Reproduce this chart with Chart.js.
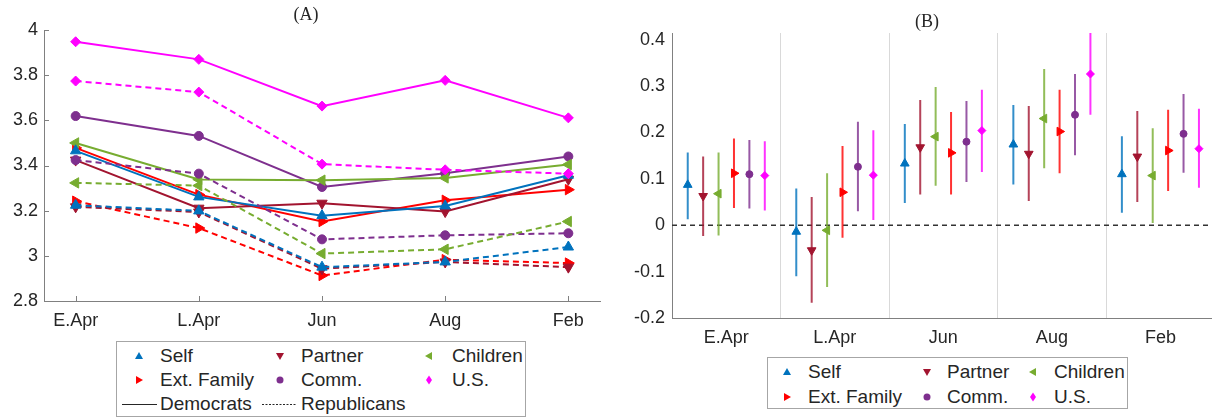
<!DOCTYPE html>
<html>
<head>
<meta charset="utf-8">
<script src="https://cdn.jsdelivr.net/npm/chart.js@4.4.1/dist/chart.umd.min.js"></script>
<style>
  body { margin: 0; background: #fff; width: 1217px; height: 419px; position: relative; overflow: hidden;
         font-family: "Liberation Sans", Arial, sans-serif; color: #262626; }
  canvas { position: absolute; top: 0; }
  #chartA { left: 0; }
  #chartB { left: 610px; }
  .title { position: absolute; font-family: "Liberation Serif", serif; font-size: 18px; line-height: 1;
           transform: translate(-50%, -50%); }
  .legend { position: absolute; border: 1px solid #a6a6a6; background: #fff; box-sizing: border-box; }
  .item { position: absolute; font-size: 19px; line-height: 22px; white-space: nowrap; }
  .mk { position: absolute; line-height: 0; }
  .mk svg { display: block; }
</style>
</head>
<body>
<canvas id="chartA" width="610" height="360"></canvas>
<canvas id="chartB" width="607" height="360"></canvas>
<div class="title" style="left:306px; top:14px;">(A)</div>
<div class="title" style="left:927px; top:21px;">(B)</div>
<div class="legend" style="left:116px; top:341px; width:410px; height:76px;"></div>
<div class="legend" style="left:767px; top:357px; width:361px; height:52px;"></div>
<div id="legendItems"></div>

<script>
// ======= Data =======
const categories = ["E.Apr", "L.Apr", "Jun", "Aug", "Feb"];
const seriesNames = ["Self", "Partner", "Children", "Ext. Family", "Comm.", "U.S."];
const seriesColors = ["#0072BD", "#A2142F", "#77AC30", "#FF0000", "#7E2F8E", "#FF00FF"];

// (A) mean levels by party
const demSelf      = [3.465, 3.261, 3.178, 3.221, 3.357];
const demPartner   = [3.424, 3.211, 3.233, 3.196, 3.339];
const demChildren  = [3.500, 3.338, 3.335, 3.345, 3.404];
const demExtFamily = [3.478, 3.271, 3.152, 3.246, 3.293];
const demComm      = [3.619, 3.531, 3.305, 3.366, 3.440];
const demUS        = [3.948, 3.870, 3.663, 3.777, 3.611];

const repSelf      = [3.224, 3.199, 2.950, 2.973, 3.039];
const repPartner   = [3.217, 3.194, 2.943, 2.973, 2.950];
const repChildren  = [3.323, 3.311, 3.010, 3.029, 3.152];
const repExtFamily = [3.242, 3.123, 2.913, 2.983, 2.968];
const repComm      = [3.424, 3.364, 3.073, 3.091, 3.100];
const repUS        = [3.774, 3.725, 3.406, 3.381, 3.364];

const yTicksA = [2.8, 3, 3.2, 3.4, 3.6, 3.8, 4];

// (B) differences with confidence intervals
const estSelf = [0.087, -0.014, 0.133, 0.174, 0.110];
const loSelf  = [0.013, -0.110, 0.048, 0.088, 0.027];
const hiSelf  = [0.157, 0.079, 0.218, 0.259, 0.192];

const estPartner = [0.063, -0.054, 0.168, 0.154, 0.148];
const loPartner  = [-0.023, -0.167, 0.066, 0.052, 0.050];
const hiPartner  = [0.148, 0.061, 0.270, 0.257, 0.246];

const estChildren = [0.068, -0.011, 0.191, 0.230, 0.107];
const loChildren  = [-0.022, -0.133, 0.085, 0.123, 0.005];
const hiChildren  = [0.157, 0.112, 0.298, 0.337, 0.209];

const estExtFamily = [0.112, 0.071, 0.156, 0.202, 0.161];
const loExtFamily  = [0.037, -0.027, 0.066, 0.112, 0.074];
const hiExtFamily  = [0.187, 0.171, 0.244, 0.292, 0.249];

const estComm = [0.110, 0.126, 0.180, 0.238, 0.197];
const loComm  = [0.036, 0.030, 0.093, 0.151, 0.113];
const hiComm  = [0.184, 0.223, 0.268, 0.326, 0.283];

const estUS = [0.107, 0.108, 0.204, 0.326, 0.165];
const loUS  = [0.032, 0.011, 0.115, 0.238, 0.081];
const hiUS  = [0.181, 0.205, 0.292, 0.420, 0.251];

const yTicksB = [-0.2, -0.1, 0, 0.1, 0.2, 0.3, 0.4];

// ======= Styling =======
const markerStyles = ["triangle", "triangle", "triangle", "triangle", "circle", "rectRot"];
const markerRotations = [0, 180, 270, 90, 0, 0];
const markerSizeA = [6, 6, 6, 6, 4.5, 5];
const markerSizeB = [5, 5, 5, 5, 3.5, 4];
const FONT = "'Liberation Sans', Arial, sans-serif";
const AXIS_GRAY = "#808080";

Chart.defaults.font.family = FONT;
Chart.defaults.color = "#262626";

const fmt = v => String(+v.toFixed(2));

// small ticks drawn inward, like the reference
const insideTicks = {
  id: "insideTicks",
  afterDraw(chart) {
    const { ctx, chartArea, scales } = chart;
    ctx.save();
    ctx.strokeStyle = AXIS_GRAY;
    ctx.lineWidth = 1;
    scales.x.ticks.forEach(t => {
      const px = Math.round(scales.x.getPixelForValue(t.value)) + 0.5;
      ctx.beginPath();
      ctx.moveTo(px, chartArea.bottom);
      ctx.lineTo(px, chartArea.bottom - 5);
      ctx.stroke();
    });
    scales.y.ticks.forEach(t => {
      const py = Math.round(scales.y.getPixelForValue(t.value)) + 0.5;
      ctx.beginPath();
      ctx.moveTo(chartArea.left, py);
      ctx.lineTo(chartArea.left + 5, py);
      ctx.stroke();
    });
    ctx.restore();
  }
};

document.addEventListener("DOMContentLoaded", function () {
  // ======= Chart A =======
  const demSeries = [demSelf, demPartner, demChildren, demExtFamily, demComm, demUS];
  const repSeries = [repSelf, repPartner, repChildren, repExtFamily, repComm, repUS];

  function lineDataset(values, j, dashed) {
    return {
      data: values.map((v, i) => ({ x: i, y: v })),
      borderColor: seriesColors[j],
      backgroundColor: seriesColors[j],
      borderWidth: 2,
      borderDash: dashed ? [6, 4] : [],
      pointStyle: markerStyles[j],
      pointRotation: markerRotations[j],
      pointRadius: markerSizeA[j],
      pointBorderWidth: 1,
      tension: 0
    };
  }

  const datasetsA = [];
  repSeries.forEach((s, j) => datasetsA.push(lineDataset(s, j, true)));
  demSeries.forEach((s, j) => datasetsA.push(lineDataset(s, j, false)));

  new Chart(document.getElementById("chartA").getContext("2d"), {
    type: "line",
    data: { datasets: datasetsA },
    options: {
      responsive: false,
      animation: false,
      devicePixelRatio: 1,
      layout: { padding: { top: 30, right: 10, left: 0, bottom: 0 } },
      plugins: { legend: { display: false }, tooltip: { enabled: false } },
      scales: {
        x: {
          type: "linear",
          min: -0.257,
          max: 4.257,
          afterBuildTicks: s => { s.ticks = categories.map((c, i) => ({ value: i })); },
          afterFit: s => { s.height = 59; },
          grid: { display: false, drawTicks: false },
          border: { display: true, color: AXIS_GRAY },
          ticks: { autoSkip: false, maxRotation: 0, padding: 9, font: { size: 18 },
                   callback: v => categories[v] ?? "" }
        },
        y: {
          min: 2.8,
          max: 4,
          afterBuildTicks: s => { s.ticks = yTicksA.map(v => ({ value: v })); },
          afterFit: s => { s.width = 44; },
          grid: { display: false, drawTicks: false },
          border: { display: true, color: AXIS_GRAY },
          ticks: { padding: 6, font: { size: 18 }, callback: v => fmt(v) }
        }
      }
    },
    plugins: [insideTicks]
  });

  // ======= Chart B =======
  const estB = [estSelf, estPartner, estChildren, estExtFamily, estComm, estUS];
  const loB = [loSelf, loPartner, loChildren, loExtFamily, loComm, loUS];
  const hiB = [hiSelf, hiPartner, hiChildren, hiExtFamily, hiComm, hiUS];
  const xMinB = -0.5, xMaxB = 4.466, groupStep = 0.142;
  const xPos = (i, j) => i + (j - 2.5) * groupStep;

  const alpha = (hex, a) => {
    const n = parseInt(hex.slice(1), 16);
    return `rgba(${n >> 16}, ${(n >> 8) & 255}, ${n & 255}, ${a})`;
  };

  const datasetsB = [];
  // markers on top
  estB.forEach((s, j) => {
    datasetsB.push({
      data: s.map((v, i) => ({ x: xPos(i, j), y: v })),
      showLine: false,
      borderColor: seriesColors[j],
      backgroundColor: seriesColors[j],
      pointStyle: markerStyles[j],
      pointRotation: markerRotations[j],
      pointRadius: markerSizeB[j],
      pointBorderWidth: 1
    });
  });
  // error bars
  estB.forEach((s, j) => {
    const segs = [];
    s.forEach((v, i) => {
      segs.push({ x: xPos(i, j), y: loB[j][i] });
      segs.push({ x: xPos(i, j), y: hiB[j][i] });
      segs.push({ x: xPos(i, j), y: null });
    });
    datasetsB.push({
      data: segs,
      showLine: true,
      spanGaps: false,
      borderColor: alpha(seriesColors[j], 0.8),
      borderWidth: 2,
      pointRadius: 0
    });
  });
  // zero reference line
  datasetsB.push({
    data: [{ x: xMinB, y: 0 }, { x: xMaxB, y: 0 }],
    showLine: true,
    borderColor: "#333",
    borderWidth: 1.5,
    borderDash: [5, 4],
    pointRadius: 0
  });

  new Chart(document.getElementById("chartB").getContext("2d"), {
    type: "scatter",
    data: { datasets: datasetsB },
    options: {
      responsive: false,
      animation: false,
      devicePixelRatio: 1,
      layout: { padding: { top: 33, right: 0, left: 0, bottom: 0 } },
      plugins: { legend: { display: false }, tooltip: { enabled: false } },
      scales: {
        x: {
          type: "linear",
          min: xMinB,
          max: xMaxB,
          afterBuildTicks: s => {
            const t = [];
            categories.forEach((c, i) => {
              t.push({ value: i });
              if (i < categories.length - 1) t.push({ value: i + 0.5 });
            });
            s.ticks = t;
          },
          afterFit: s => { s.height = 42; },
          grid: {
            drawTicks: false,
            color: c => (c.tick && c.tick.value % 1 !== 0 ? "#d9d9d9" : "rgba(0,0,0,0)")
          },
          border: { display: true, color: AXIS_GRAY },
          ticks: { autoSkip: false, maxRotation: 0, padding: 9, font: { size: 18 },
                   callback: v => (Number.isInteger(v) ? categories[v] : "") }
        },
        y: {
          min: -0.2,
          max: 0.4144,
          afterBuildTicks: s => { s.ticks = yTicksB.map(v => ({ value: v })); },
          afterFit: s => { s.width = 62; },
          grid: { display: false, drawTicks: false },
          border: { display: true, color: AXIS_GRAY },
          ticks: { padding: 7, font: { size: 18 }, callback: v => fmt(v) }
        }
      }
    }
  });

  // ======= Legends (HTML) =======
  const shapes = {
    up: '<polygon points="0,-4 4,3 -4,3"/>',
    down: '<polygon points="0,4 4,-3 -4,-3"/>',
    left: '<polygon points="-4,0 3,-4 3,4"/>',
    right: '<polygon points="4,0 -3,-4 -3,4"/>',
    circle: '<circle r="3.5"/>',
    diamond: '<polygon points="0,-4.5 3,0 0,4.5 -3,0"/>'
  };
  const legendShapes = ["up", "down", "left", "right", "circle", "diamond"];
  const holder = document.getElementById("legendItems");

  function addMarker(j, x, y) {
    const d = document.createElement("div");
    d.className = "mk";
    d.style.left = (x - 5) + "px";
    d.style.top = (y - 5) + "px";
    d.innerHTML = `<svg width="10" height="10" viewBox="-5 -5 10 10" fill="${seriesColors[j]}">${shapes[legendShapes[j]]}</svg>`;
    holder.appendChild(d);
  }
  function addText(txt, x, y) {
    const d = document.createElement("div");
    d.className = "item";
    d.style.left = x + "px";
    d.style.top = (y - 11) + "px";
    d.textContent = txt;
    holder.appendChild(d);
  }
  function addLineSample(x1, x2, y, dash) {
    const d = document.createElement("div");
    d.className = "mk";
    d.style.left = x1 + "px";
    d.style.top = (y - 2) + "px";
    d.innerHTML = `<svg width="${x2 - x1}" height="4"><line x1="0" y1="2.5" x2="${x2 - x1}" y2="2.5" stroke="#262626" stroke-width="1" ${dash ? 'stroke-dasharray="2,1.5"' : ""}/></svg>`;
    holder.appendChild(d);
  }

  // legend order: row-major, 3 columns
  const legendA = { rows: [356, 380], markX: [139, 280, 429], textX: [160, 301, 452] };
  const legendB = { rows: [372, 397], markX: [787, 927, 1033], textX: [808, 947, 1054] };
  const order = [0, 1, 2, 3, 4, 5];
  [legendA, legendB].forEach(L => {
    order.forEach((j, k) => {
      const r = Math.floor(k / 3), c = k % 3;
      addMarker(j, L.markX[c], L.rows[r]);
      addText(seriesNames[j], L.textX[c], L.rows[r]);
    });
  });
  addLineSample(122, 157, 404, false);
  addText("Democrats", 160, 404);
  addLineSample(262, 297, 404, true);
  addText("Republicans", 301, 404);
});
</script>
</body>
</html>
